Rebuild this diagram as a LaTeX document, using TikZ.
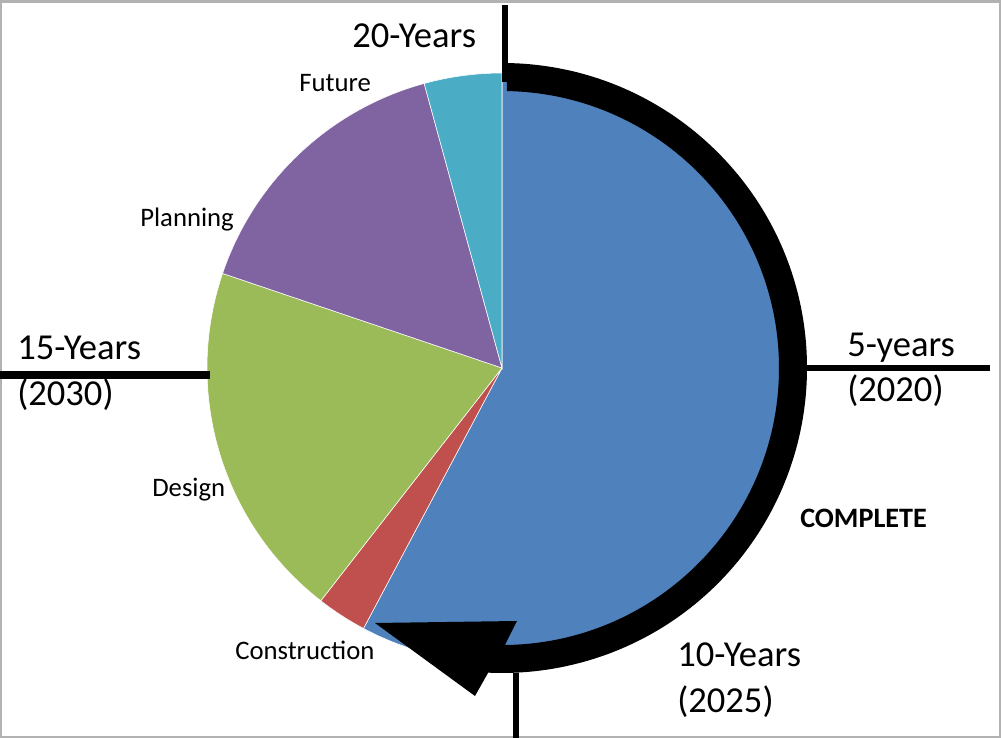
\documentclass[tikz,border=0pt]{standalone}
\usepackage{fontspec}
\setmainfont{Carlito}
\definecolor{pblue}{HTML}{4F81BD}
\definecolor{pred}{HTML}{C0504D}
\definecolor{pgreen}{HTML}{9BBB59}
\definecolor{ppurple}{HTML}{8064A2}
\definecolor{pcyan}{HTML}{4BACC6}
\begin{document}
\begin{tikzpicture}[x=0.025cm,y=0.025cm,
  big/.style={anchor=base west,inner sep=0pt,font=\fontsize{26}{30}\selectfont},
  small/.style={anchor=base west,inner sep=0pt,font=\fontsize{19}{22}\selectfont}]
\useasboundingbox(0,0)rectangle(1002,738);
%frame
\draw[gray!60,line width=1.5](1,1)rectangle(1000,736.5);
\coordinate(c)at(502,370);
%pie
\foreach \a/\b/\col in {90/-118/pblue,-118/-127.9/pred,-127.9/-198.7/pgreen,-198.7/-254.7/ppurple,-254.7/-270/pcyan}
  {\fill[\col,draw=white,line width=0.4](c)--++(\a:295)arc[start angle=\a,end angle=\b,radius=295]--cycle;}
%arrow
\fill(c)++(89:305)arc[start angle=89,end angle=-92.6,radius=305]--(475,42)--(375,115)--(517,117)--(504.9,93)arc[start angle=-89.4,end angle=89,radius=277]--cycle;
%ticks
\draw[line width=4.5](505,733)--(505,656);
\draw[line width=4.5](805,370)--(990,370);
\draw[line width=5](0,363)--(210,363);
\draw[line width=4.5](516,65)--(516,0);
%labels
\node[big](y20)at(352,690){20-Years};
\node[small](fut)at(299,646){Future};
\node[small](plan)at(140,511){Planning};
\node[big](y15)at(17,378){15-Years};
\node[big](y15b)at(17,332){(2030)};
\node[small](des)at(152,241){Design};
\node[small](con)at(235,78){Construction};
\node[big](y5)at(847,381){5-years};
\node[big](y5b)at(847,336){(2020)};
\node[small,font=\bfseries\fontsize{20}{24}\selectfont](comp)at(800,210){COMPLETE};
\node[big](y10)at(677,71){10-Years};
\node[big](y10b)at(677,25){(2025)};
\end{tikzpicture}
\end{document}
